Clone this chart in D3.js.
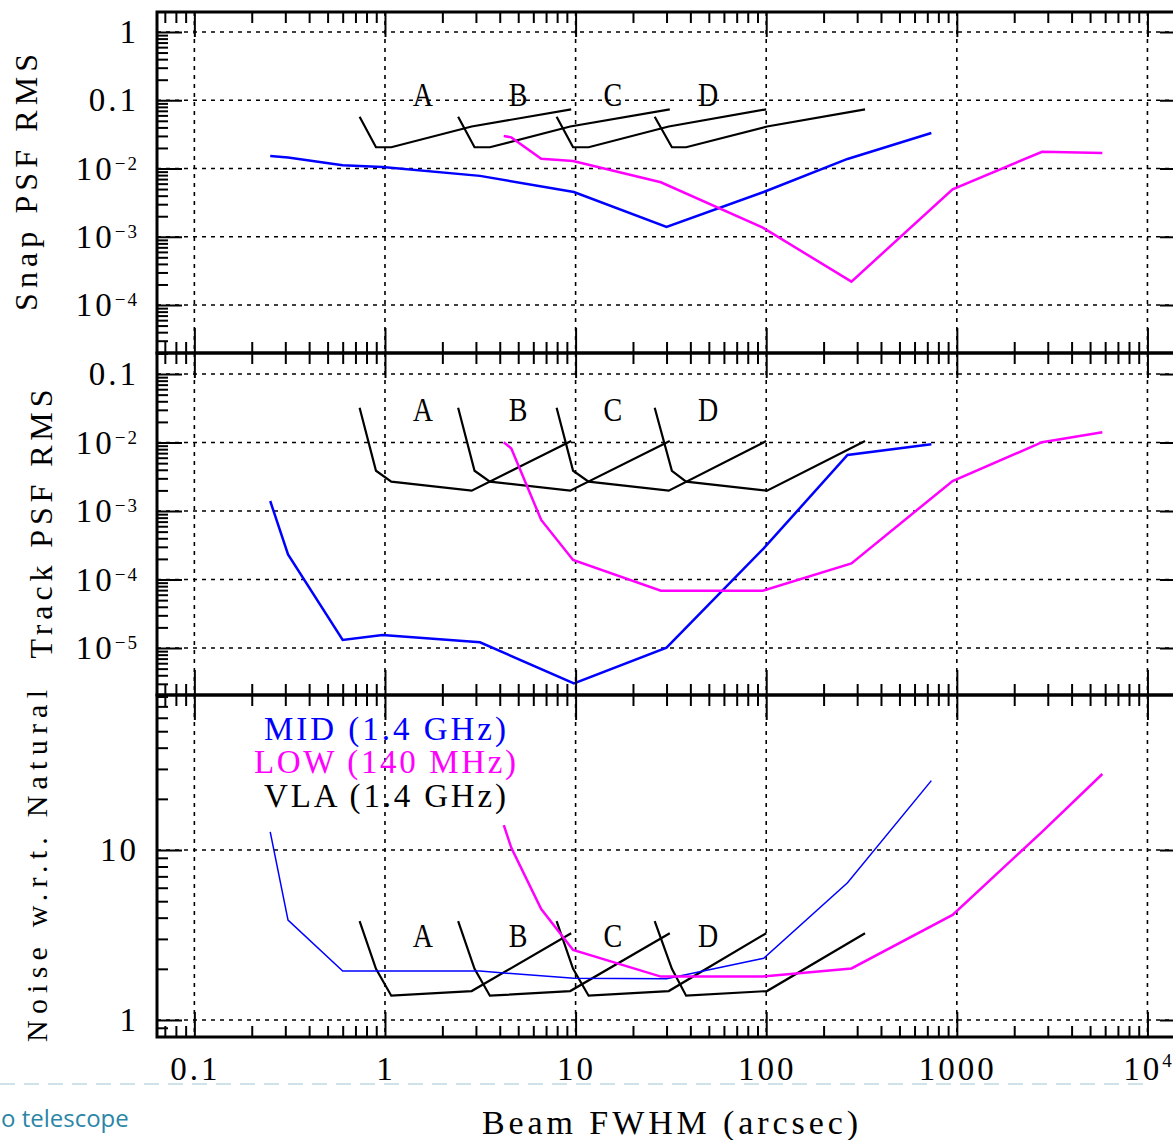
<!DOCTYPE html>
<html><head><meta charset="utf-8">
<script src="https://cdn.jsdelivr.net/npm/d3@7"></script>
<style>html,body{margin:0;padding:0;background:#fff;overflow:hidden}</style>
</head><body>
<script>
// ---------------- data ----------------
const xMajor = [0.1, 1, 10, 100, 1000, 10000];
const xTickLabels = ["0.1", "1", "10", "100", "1000", "10^4"];

const snapTicks = [1, 0.1, 0.01, 0.001, 0.0001];
const snapTickLabels = ["1", "0.1", "10^−2", "10^−3", "10^−4"];
const trackTicks = [0.1, 0.01, 0.001, 1e-4, 1e-5];
const trackTickLabels = ["0.1", "10^−2", "10^−3", "10^−4", "10^−5"];
const noiseTicks = [10, 1];
const noiseTickLabels = ["10", "1"];

const yTitles = ["Snap PSF RMS", "Track PSF RMS", "Noise w.r.t. Natural"];

// SKA MID (1.4 GHz)
const midX     = [0.25, 0.31, 0.6, 0.97, 3.15, 9.8, 30, 97, 267, 735];
const midSnap  = [0.0152, 0.0145, 0.0112, 0.0105, 0.0078, 0.00453, 0.00139, 0.00453, 0.0138, 0.0331];
const midTrack = [0.0014, 2.33e-4, 1.31e-5, 1.55e-5, 1.21e-5, 3.05e-6, 1.01e-5, 2.85e-4, 0.00658, 0.00942];
const midNoise = [12.8, 3.87, 1.94, 1.94, 1.94, 1.76, 1.75, 2.31, 6.42, 25.6];

// SKA LOW (140 MHz)
const lowX     = [4.2, 4.6, 6.6, 9.7, 28, 96, 280, 950, 2800, 5800];
const lowSnap  = [0.0299, 0.0286, 0.0139, 0.0129, 0.00628, 0.00136, 2.2e-4, 0.00496, 0.0176, 0.0169];
const lowTrack = [0.0101, 0.0082, 7.4e-4, 1.93e-4, 6.86e-5, 6.86e-5, 1.72e-4, 0.00274, 0.0101, 0.0141];
const lowNoise = [14.0, 10.3, 4.5, 2.58, 1.80, 1.80, 2.01, 4.15, 12.8, 28.0];

// VLA (1.4 GHz) configurations A-D
const configNames = ["A", "B", "C", "D"];
const configLabelX = [1.58, 5.0, 15.7, 49.6];
const vlaA_X = [0.736, 0.897, 1.079, 2.85, 9.48];
const vlaB_X = [2.42, 2.95, 3.55, 9.37, 31.2];
const vlaC_X = [7.95, 9.7, 11.7, 30.8, 100];
const vlaD_X = [26, 32, 38, 101, 330];
const vlaSnap  = [0.0574, 0.0205, 0.0205, 0.0412, 0.0737];
const vlaTrack = [0.0322, 0.00387, 0.00268, 0.00198, 0.0105];
const vlaNoise = [3.82, 2.0, 1.39, 1.48, 3.24];

const legendLabels = ["MID (1.4 GHz)", "LOW (140 MHz)", "VLA (1.4 GHz)"];
const legendColors = ["#0000ff", "#ff00ff", "#000000"];

// ---------------- layout ----------------
const W = 1173, H = 1140;
const L = 157, R = 1185;
const FONT = "'Liberation Serif', 'DejaVu Serif', serif";
const BLUE = "#0000ff", MAG = "#ff00ff";

const svg = d3.select("body").append("svg").attr("width", W).attr("height", H)
  .style("display", "block");
svg.append("rect").attr("width", W).attr("height", H).attr("fill", "#fff");

const x = d3.scaleLog().domain([Math.pow(10, -1.196), Math.pow(10, 4.197)]).range([L, R]);

const vlaXs = [vlaA_X, vlaB_X, vlaC_X, vlaD_X];
const panels = [
  { top: 12, bottom: 353, dom: [Math.pow(10, -4.703), Math.pow(10, 0.293)],
    ticks: snapTicks, labels: snapTickLabels, title: yTitles[0], titleX: 37, titleLen: 257, titleSize: 32,
    series: [[midX, midSnap, BLUE, 2.5], [lowX, lowSnap, MAG, 2.5]], vla: vlaSnap, letterY: 0.082 },
  { top: 353, bottom: 695, dom: [Math.pow(10, -5.686), Math.pow(10, -0.693)],
    ticks: trackTicks, labels: trackTickLabels, title: yTitles[1], titleX: 52, titleLen: 269, titleSize: 32,
    series: [[midX, midTrack, BLUE, 2.5], [lowX, lowTrack, MAG, 2.5]], vla: vlaTrack, letterY: 0.0208 },
  { top: 695, bottom: 1037, dom: [Math.pow(10, -0.1), Math.pow(10, 1.912)],
    ticks: noiseTicks, labels: noiseTickLabels, title: yTitles[2], titleX: 47, titleLen: 352, titleSize: 30,
    series: [[midX, midNoise, BLUE, 1.5], [lowX, lowNoise, MAG, 2.5]], vla: vlaNoise, letterY: 2.7 }
];

function minorsFor(dom) {
  const out = [];
  const lo = Math.floor(Math.log10(dom[0])), hi = Math.ceil(Math.log10(dom[1]));
  for (let d = lo; d <= hi; d++) for (let m = 2; m <= 9; m++) {
    const v = m * Math.pow(10, d);
    if (v > dom[0] && v < dom[1]) out.push(v);
  }
  return out;
}
const xMinor = minorsFor(x.domain());

// branding strip (bottom)
svg.append("line").attr("x1", 0).attr("x2", 1143).attr("y1", 1084).attr("y2", 1084)
  .attr("stroke", "#cfe1e9").attr("stroke-width", 2).attr("stroke-dasharray", "15,9");
svg.append("text").attr("x", 1).attr("y", 1127).attr("font-family", "'Open Sans', sans-serif")
  .attr("font-size", 24).attr("fill", "#2b86a6").text("o telescope");

function label(sel, str, supSize, supDy) {
  const parts = str.split("^");
  sel.append("tspan").text(parts[0]);
  if (parts[1]) sel.append("tspan").attr("font-size", supSize).attr("dy", -supDy)
    .attr("letter-spacing", "2px").text(parts[1]);
}

function styleAxis(g, w) {
  g.select(".domain").remove();
  g.selectAll(".tick line").attr("stroke", "#000").attr("stroke-width", w);
  g.selectAll(".tick text").remove();
}

panels.forEach(p => {
  const y = d3.scaleLog().domain(p.dom).range([p.bottom, p.top]);
  const g = svg.append("g");

  // grid
  g.selectAll(".vg").data(xMajor).enter().append("line")
    .attr("x1", d => x(d)).attr("x2", d => x(d)).attr("y1", p.top).attr("y2", p.bottom)
    .attr("stroke", "#000").attr("stroke-width", 1.6).attr("stroke-dasharray", "4,5");
  g.selectAll(".hg").data(p.ticks).enter().append("line")
    .attr("x1", L).attr("x2", R).attr("y1", d => y(d)).attr("y2", d => y(d))
    .attr("stroke", "#000").attr("stroke-width", 1.6).attr("stroke-dasharray", "4,5");

  // data lines
  const line = d3.line().x(d => x(d[0])).y(d => y(d[1]));
  vlaXs.forEach(xs => {
    g.append("path").attr("d", line(xs.map((v, i) => [v, p.vla[i]])))
      .attr("fill", "none").attr("stroke", "#000").attr("stroke-width", 2.2)
      .attr("stroke-linejoin", "miter");
  });
  p.series.forEach(([xs, ys, c, w]) => {
    g.append("path").attr("d", line(xs.map((v, i) => [v, ys[i]])))
      .attr("fill", "none").attr("stroke", c).attr("stroke-width", w);
  });

  // configuration letters
  configNames.forEach((n, i) => {
    const lx = x(configLabelX[i]);
    g.append("text").attr("x", lx).attr("y", y(p.letterY))
      .attr("text-anchor", "middle").attr("font-family", FONT).attr("font-size", 33)
      .attr("transform", `translate(${lx},0) scale(0.85,1) translate(${-lx},0)`)
      .text(n);
  });

  // ticks (inward)
  const yMinor = minorsFor(p.dom);
  const axes = [
    [d3.axisBottom(x).tickValues(xMajor).tickSize(25), `translate(0,${p.top})`],
    [d3.axisBottom(x).tickValues(xMinor).tickSize(11), `translate(0,${p.top})`],
    [d3.axisTop(x).tickValues(xMajor).tickSize(25), `translate(0,${p.bottom})`],
    [d3.axisTop(x).tickValues(xMinor).tickSize(11), `translate(0,${p.bottom})`],
    [d3.axisRight(y).tickValues(p.ticks).tickSize(25), `translate(${L},0)`],
    [d3.axisRight(y).tickValues(yMinor).tickSize(11), `translate(${L},0)`],
    [d3.axisLeft(y).tickValues(p.ticks).tickSize(25), `translate(${R},0)`],
    [d3.axisLeft(y).tickValues(yMinor).tickSize(11), `translate(${R},0)`]
  ];
  axes.forEach(([ax, tr]) => {
    const ag = svg.append("g").attr("transform", tr).call(ax.tickSizeOuter(0).tickFormat(""));
    styleAxis(ag, 2);
  });

  // frame
  svg.append("rect").attr("x", L).attr("y", p.top).attr("width", R - L).attr("height", p.bottom - p.top)
    .attr("fill", "none").attr("stroke", "#000").attr("stroke-width", 3);

  // y tick labels
  p.ticks.forEach((v, i) => {
    const t = svg.append("text").attr("x", 139).attr("y", y(v) + 11)
      .attr("text-anchor", "end").attr("font-family", FONT).attr("font-size", 33)
      .attr("letter-spacing", "3px");
    label(t, p.labels[i], 19, 10);
  });

  // y title
  const cy = (p.top + p.bottom) / 2;
  svg.append("text").attr("transform", `translate(${p.titleX},${cy}) rotate(-90)`)
    .attr("text-anchor", "middle").attr("font-family", FONT).attr("font-size", p.titleSize)
    .attr("textLength", p.titleLen).attr("lengthAdjust", "spacing").text(p.title);

  // legend in bottom panel
  if (p === panels[2]) {
    const baselines = [740, 773, 807];
    const lens = [242, 262, 242];
    legendLabels.forEach((s, i) => {
      svg.append("text").attr("x", 385).attr("y", baselines[i]).attr("text-anchor", "middle")
        .attr("font-family", FONT).attr("font-size", 33).attr("fill", legendColors[i])
        .attr("textLength", lens[i]).attr("lengthAdjust", "spacing").text(s);
    });
  }
});

// x tick labels
xMajor.forEach((v, i) => {
  const t = svg.append("text").attr("x", x(v) + 1).attr("y", 1080)
    .attr("text-anchor", "middle").attr("font-family", FONT).attr("font-size", 33)
    .attr("letter-spacing", "3px");
  label(t, xTickLabels[i], 19, 13);
});

// x title
svg.append("text").attr("x", 670).attr("y", 1134).attr("text-anchor", "middle")
  .attr("font-family", FONT).attr("font-size", 34)
  .attr("textLength", 376).attr("lengthAdjust", "spacing").text("Beam FWHM (arcsec)");
</script>
</body></html>
